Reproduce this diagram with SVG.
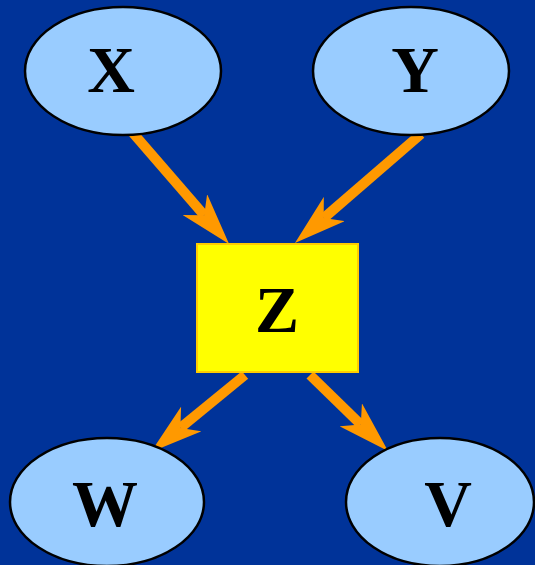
<svg xmlns="http://www.w3.org/2000/svg" width="535" height="565" viewBox="0 0 535 565">
<style>
.node ellipse{fill:#99CCFF;stroke:#000;stroke-width:2.5}
.node rect{fill:#FFFF00;stroke:#FFCC00;stroke-width:2}
.node text{font-family:"Liberation Serif","Times New Roman",serif;font-weight:bold;font-size:66px;fill:#000;text-anchor:middle}
.edge{stroke:#FF9900;stroke-width:10;fill:none;marker-end:url(#ah)}
</style>
<defs>
<marker id="ah" markerUnits="userSpaceOnUse" viewBox="0 -16 52 32" markerWidth="52" markerHeight="32" refX="14" refY="0" orient="auto">
<path d="M0,-16 L52,0 L0,16 L14,0 Z" fill="#FF9900"/>
</marker>
</defs>
<rect x="0" y="0" width="535" height="565" fill="#003399"/>
<g id="connectors">
<line class="edge" x1="133" y1="133" x2="204.2" y2="215.2"/>
<line class="edge" x1="421" y1="134" x2="323.7" y2="218.1"/>
<line class="edge" x1="245" y1="375" x2="180.4" y2="427.9"/>
<line class="edge" x1="310" y1="375" x2="360.8" y2="424.5"/>
</g>
<g id="X" class="node"><ellipse cx="123" cy="71" rx="98" ry="64"/><text x="111" y="92">X</text></g>
<g id="Y" class="node"><ellipse cx="411" cy="71" rx="98" ry="64"/><text x="415" y="92">Y</text></g>
<g id="Z" class="node"><rect x="197" y="244" width="161" height="128"/><text x="277" y="332">Z</text></g>
<g id="W" class="node"><ellipse cx="107" cy="502" rx="97" ry="64"/><text x="105" y="526">W</text></g>
<g id="V" class="node"><ellipse cx="440" cy="502" rx="94" ry="64"/><text x="448" y="526">V</text></g>
</svg>
